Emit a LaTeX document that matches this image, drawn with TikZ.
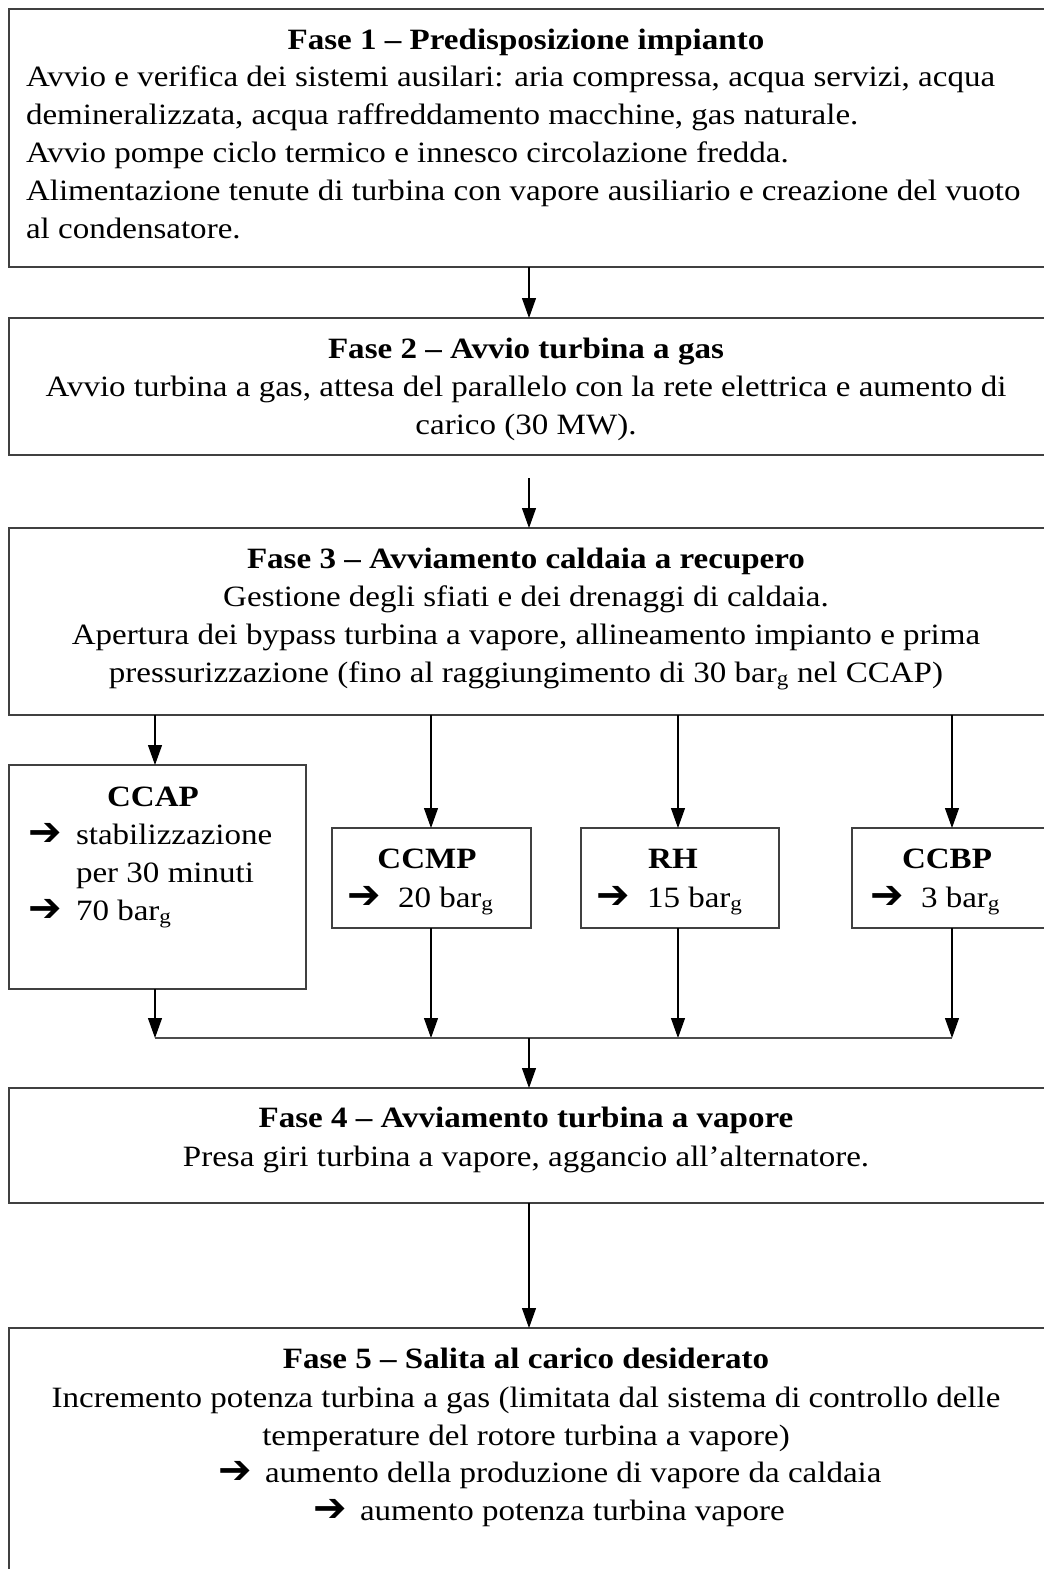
\documentclass[tikz,border=0pt]{standalone}
\usepackage{fontspec}
\setmainfont[FakeStretch=1.12]{Liberation Serif}
\newfontfamily\sym{DejaVu Sans}
\usetikzlibrary{arrows.meta}
\newcommand{\ar}{\raisebox{-1pt}{\sym\bfseries\fontsize{40}{38}\selectfont\char"2794}}
\begin{document}
\begin{tikzpicture}[x=1pt,y=-1pt,
  box/.style={draw=black!75,line width=1.9pt,fill=white,inner sep=0pt,outer sep=0pt},
  txt/.style={inner sep=0pt,outer sep=0pt,font=\fontsize{29.5}{38}\selectfont},
  ttl/.style={txt,font=\fontsize{29.5}{38}\selectfont\bfseries},
  arr/.style={draw=black,line width=1.2pt,-{Triangle[length=20pt,width=14pt]}},
  ln/.style={draw=black!70,line width=1.8pt}]
\useasboundingbox[fill=white] (0,0) rectangle (1044,1569);
% boxes
\node[box,minimum width=1037,minimum height=258] (b1) at (527.5,138) {};
\node[box,minimum width=1037,minimum height=137] (b2) at (527.5,386.5) {};
\node[box,minimum width=1037,minimum height=187] (b3) at (527.5,621.5) {};
\node[box,minimum width=297,minimum height=224] (ccap) at (157.5,877) {};
\node[box,minimum width=199,minimum height=100] (ccmp) at (431.5,878) {};
\node[box,minimum width=198,minimum height=100] (rh) at (680,878) {};
\node[box,minimum width=194,minimum height=100] (ccbp) at (949,878) {};
\node[box,minimum width=1037,minimum height=115] (b4) at (527.5,1145.5) {};
\node[box,minimum width=1037,minimum height=250] (b5) at (527.5,1453) {};
% texts
\node[ttl,anchor=base] (t1) at (526,49) {Fase 1 – Predisposizione impianto};
\node[txt,anchor=base west,align=left] (x1) at (26,238) {Avvio e verifica dei sistemi ausilari: aria compressa, acqua servizi, acqua\\demineralizzata, acqua raffreddamento macchine, gas naturale.\\Avvio pompe ciclo termico e innesco circolazione fredda.\\Alimentazione tenute di turbina con vapore ausiliario e creazione del vuoto\\al condensatore.};
\node[ttl,anchor=base] (t2) at (526,358) {Fase 2 – Avvio turbina a gas};
\node[txt,anchor=base,align=center] (x2) at (526,434) {Avvio turbina a gas, attesa del parallelo con la rete elettrica e aumento di\\carico (30 MW).};
\node[ttl,anchor=base] (t3) at (526,568) {Fase 3 – Avviamento caldaia a recupero};
\node[txt,anchor=base,align=center] (x3) at (526,682) {Gestione degli sfiati e dei drenaggi di caldaia.\\Apertura dei bypass turbina a vapore, allineamento impianto e prima\\pressurizzazione (fino al raggiungimento di 30 bar\textsubscript{g} nel CCAP)};
\node[ttl,anchor=base] (tccap) at (153,806) {CCAP};
\node[txt,anchor=base west,align=left] (xccap) at (28,920) {\makebox[48pt][l]{\ar}stabilizzazione\\\hspace*{48pt}per 30 minuti\\\makebox[48pt][l]{\ar}70 bar\textsubscript{g}};
\node[ttl,anchor=base] (tccmp) at (427,868) {CCMP};
\node[txt,anchor=base west] (xccmp) at (347,907) {\makebox[51pt][l]{\ar}20 bar\textsubscript{g}};
\node[ttl,anchor=base] (trh) at (673,868) {RH};
\node[txt,anchor=base west] (xrh) at (596,907) {\makebox[51pt][l]{\ar}15 bar\textsubscript{g}};
\node[ttl,anchor=base] (tccbp) at (947,868) {CCBP};
\node[txt,anchor=base west] (xccbp) at (870,907) {\makebox[51pt][l]{\ar}3 bar\textsubscript{g}};
\node[ttl,anchor=base] (t4) at (526,1127) {Fase 4 – Avviamento turbina a vapore};
\node[txt,anchor=base] (x4) at (526,1166) {Presa giri turbina a vapore, aggancio all’alternatore.};
\node[ttl,anchor=base] (t5) at (526,1368) {Fase 5 – Salita al carico desiderato};
\node[txt,anchor=base,align=center] (x5) at (526,1445) {Incremento potenza turbina a gas (limitata dal sistema di controllo delle\\temperature del rotore turbina a vapore)};
\node[txt,anchor=base west] (x5a) at (218,1482) {\makebox[47pt][l]{\ar}aumento della produzione di vapore da caldaia};
\node[txt,anchor=base west] (x5b) at (313,1520) {\makebox[47pt][l]{\ar}aumento potenza turbina vapore};
% connectors
\coordinate (mx) at (529,0);
\coordinate (s2) at (529,478);
\coordinate (jl) at (155,1038);
\coordinate (jr) at (952,1038);
\coordinate (jm) at (529,1038);
\draw[arr] (b1.south -| mx) -- (b2.north -| mx);
\draw[arr] (s2) -- (b3.north -| mx);
\draw[arr] (b3.south -| jl) -- (ccap.north -| jl);
\draw[arr] (b3.south -| 431,0) -- (ccmp.north -| 431,0);
\draw[arr] (b3.south -| 678,0) -- (rh.north -| 678,0);
\draw[arr] (b3.south -| jr) -- (ccbp.north -| jr);
\draw[arr] (ccap.south -| jl) -- (jl);
\draw[arr] (ccmp.south -| 431,0) -- (jl -| 431,0);
\draw[arr] (rh.south -| 678,0) -- (jl -| 678,0);
\draw[arr] (ccbp.south -| jr) -- (jr);
\draw[ln] (jl) -- (jr);
\draw[arr] (jm) -- (b4.north -| mx);
\draw[arr] (b4.south -| mx) -- (b5.north -| mx);
\end{tikzpicture}
\end{document}
